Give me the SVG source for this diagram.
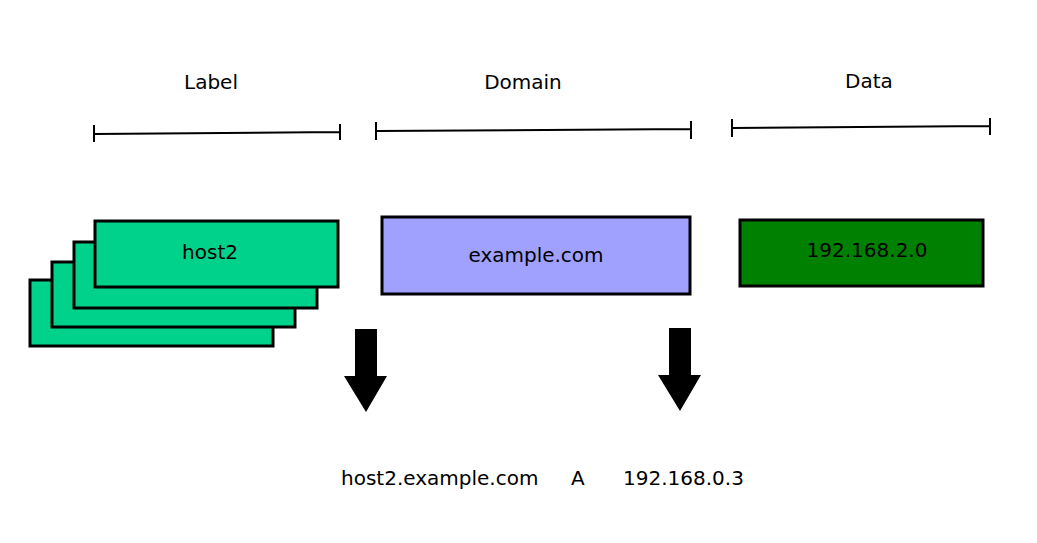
<svg xmlns="http://www.w3.org/2000/svg" width="1037" height="543" viewBox="0 0 1037 543">
<style>
text{font-family:"DejaVu Sans",sans-serif;font-size:20px;fill:#000}
.box{stroke:#000;stroke-width:3}
.host{fill:#00d28c}
.bracket{stroke:#000;stroke-width:2;fill:none}
.arrow{fill:#000}
</style>
<rect width="1037" height="543" fill="#fff"/>
<g id="brackets">
<g id="label-bracket">
<path class="bracket" d="M94,134 L340,132 M94,125 V142 M340,124 V140"/>
<text x="211" y="89" text-anchor="middle">Label</text>
</g>
<g id="domain-bracket">
<path class="bracket" d="M376,131 L691,129 M376,122 V140 M691,121 V139"/>
<text x="523" y="89" text-anchor="middle">Domain</text>
</g>
<g id="data-bracket">
<path class="bracket" d="M732,128 L990,126 M732,119 V137 M990,118 V135"/>
<text x="869" y="88" text-anchor="middle">Data</text>
</g>
</g>
<g id="host-stack">
<rect class="box host" x="30" y="280" width="243" height="66"/>
<rect class="box host" x="52" y="262" width="243" height="65"/>
<rect class="box host" x="74" y="242" width="243" height="66"/>
<rect class="box host" x="95" y="221" width="243" height="66"/>
<text x="210" y="259" text-anchor="middle">host2</text>
</g>
<g id="domain">
<rect class="box" x="382" y="217" width="308" height="77" fill="#a0a0ff"/>
<text x="536" y="262" text-anchor="middle">example.com</text>
</g>
<g id="data">
<rect class="box" x="740" y="220" width="243" height="66" fill="#008000"/>
<text x="867" y="257" text-anchor="middle">192.168.2.0</text>
</g>
<g id="connectors">
<path class="arrow" d="M355,329 H377 V376 H387 L366,412 L344,376 H355 Z"/>
<path class="arrow" d="M669,328 H691 V375 H701 L680,411 L658,375 H669 Z"/>
</g>
<g id="record">
<text x="341" y="485">host2.example.com</text>
<text x="571" y="485">A</text>
<text x="623" y="485">192.168.0.3</text>
</g>
</svg>
